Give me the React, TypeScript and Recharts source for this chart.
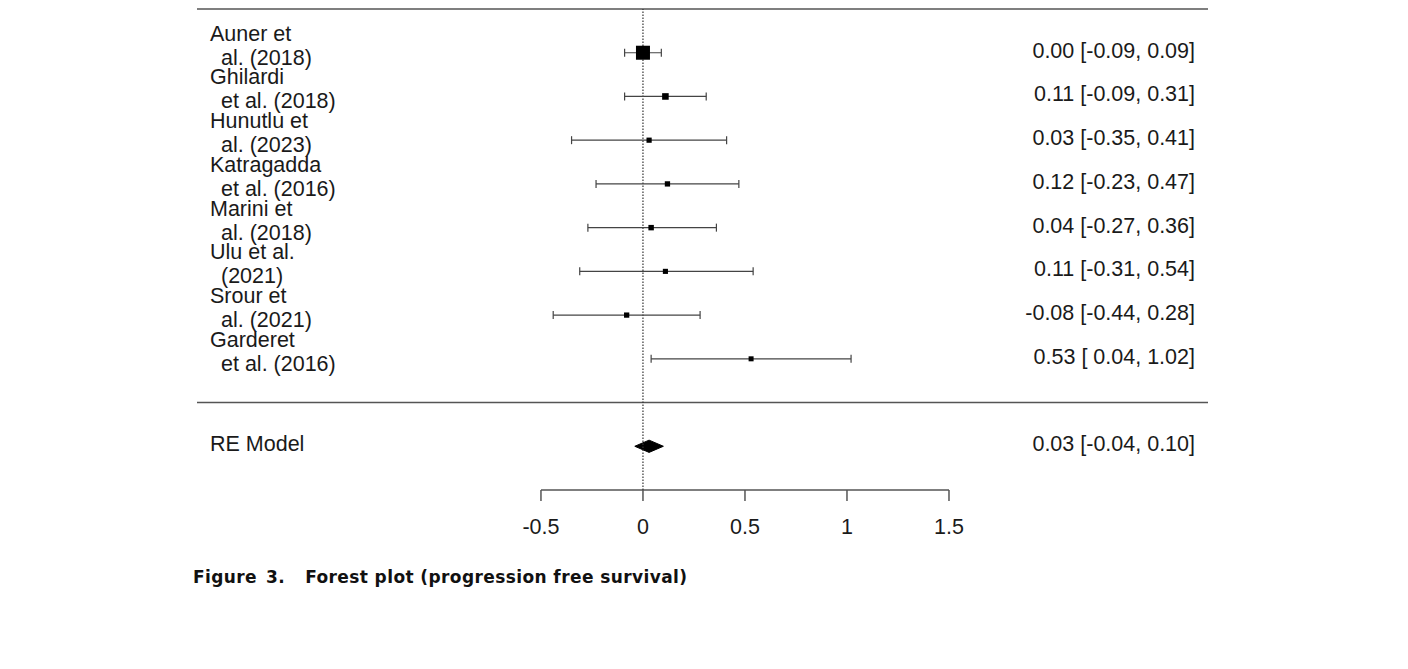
import { ComposedChart, Scatter, ErrorBar, Area, XAxis, YAxis, ReferenceLine } from 'recharts';

// study labels, wrapped onto two lines as in the original figure
const studyNames = [
  ['Auner et', 'al. (2018)'],
  ['Ghilardi', 'et al. (2018)'],
  ['Hunutlu et', 'al. (2023)'],
  ['Katragadda', 'et al. (2016)'],
  ['Marini et', 'al. (2018)'],
  ['Ulu et al.', '(2021)'],
  ['Srour et', 'al. (2021)'],
  ['Garderet', 'et al. (2016)'],
];
const estimates = [0.0, 0.11, 0.03, 0.12, 0.04, 0.11, -0.08, 0.53];
const ciLower = [-0.09, -0.09, -0.35, -0.23, -0.27, -0.31, -0.44, 0.04];
const ciUpper = [0.09, 0.31, 0.41, 0.47, 0.36, 0.54, 0.28, 1.02];
// approximate study weights (%), used for square size
const weights = [64.6, 13.1, 3.6, 4.3, 5.3, 2.9, 4.0, 2.2];

const modelLabel = 'RE Model';
const modelEstimate = 0.03;
const modelLower = -0.04;
const modelUpper = 0.1;

const xTicks = [-0.5, 0, 0.5, 1, 1.5];
const caption = ['Figure', '3.', 'Forest plot (progression free survival)'];

const FONT = '"Liberation Sans", Arial, sans-serif';
const TEXT = '#1a1a1a';
const LINE = '#555';

const n = estimates.length;
const MODEL_ROW = -1;
const TOP_ROW = n + 1;
const AXIS_ROW = -2;
const DIAMOND_H = 0.14;

const rowOf = (i: number) => n - i;
const fmt = (v: number) => v.toFixed(2);
const ciText = (est: number, lo: number, hi: number) =>
  `${fmt(est)} [${fmt(lo).padStart(5)}, ${fmt(hi)}]`;

const minW = Math.min(...weights);
const maxW = Math.max(...weights);

const studyData = estimates.map((est, i) => ({
  x: est,
  y: rowOf(i),
  err: [est - ciLower[i], ciUpper[i] - est],
  w: weights[i],
}));

const diamondData = [
  { x: modelLower, band: [MODEL_ROW, MODEL_ROW] },
  { x: modelEstimate, band: [MODEL_ROW - DIAMOND_H, MODEL_ROW + DIAMOND_H] },
  { x: modelUpper, band: [MODEL_ROW, MODEL_ROW] },
];

const yTicks = [...estimates.map((_, i) => rowOf(i)), MODEL_ROW];

const textStyle = { fontFamily: FONT, fontSize: 21.5, fill: TEXT };

function LabelTick({ x, y, payload }: any) {
  const v = payload.value;
  if (v === MODEL_ROW) {
    return (
      <text x={x + 13} y={y + 5} style={textStyle}>
        {modelLabel}
      </text>
    );
  }
  const [a, b] = studyNames[n - v];
  return (
    <g>
      <text x={x + 13} y={y - 12} style={textStyle}>{a}</text>
      <text x={x + 24} y={y + 12} style={textStyle}>{b}</text>
    </g>
  );
}

function ValueTick({ x, y, payload }: any) {
  const v = payload.value;
  const label =
    v === MODEL_ROW
      ? ciText(modelEstimate, modelLower, modelUpper)
      : ciText(estimates[n - v], ciLower[n - v], ciUpper[n - v]);
  return (
    <text x={x - 13} y={y + 5} textAnchor="end" style={{ ...textStyle, whiteSpace: 'pre' }}>
      {label}
    </text>
  );
}

function StudySquare({ cx, cy, payload }: any) {
  const s = 5 + (9 * (payload.w - minW)) / (maxW - minW);
  return <rect x={cx - s / 2} y={cy - s / 2} width={s} height={s} fill="#000" />;
}

export default function App() {
  return (
    <div style={{ position: 'relative', width: 1392, height: 600 }}>
      <ComposedChart width={1392} height={542} margin={{ top: 1, right: 191, bottom: 0, left: 188 }}>
        <XAxis
          type="number"
          dataKey="x"
          domain={[-2.186, 2.7696]}
          allowDataOverflow
          ticks={xTicks}
          interval={0}
          axisLine={false}
          tickLine={{ stroke: LINE, strokeWidth: 1.5 }}
          tickSize={11}
          tickMargin={18}
          height={60}
          tick={{ fontFamily: FONT, fontSize: 21.5, fill: TEXT }}
          tickFormatter={(v: number) => String(v)}
        />
        <YAxis
          yAxisId="left"
          type="number"
          dataKey="y"
          domain={[AXIS_ROW, TOP_ROW]}
          allowDataOverflow
          ticks={yTicks}
          interval={0}
          width={1}
          axisLine={false}
          tickLine={false}
          tickSize={0}
          tickMargin={0}
          tick={(props: any) => <LabelTick {...props} />}
        />
        <YAxis
          yAxisId="right"
          orientation="right"
          type="number"
          domain={[AXIS_ROW, TOP_ROW]}
          allowDataOverflow
          ticks={yTicks}
          interval={0}
          width={1}
          axisLine={false}
          tickLine={false}
          tickSize={0}
          tickMargin={0}
          tick={(props: any) => <ValueTick {...props} />}
        />
        <ReferenceLine yAxisId="left" y={TOP_ROW} stroke={LINE} strokeWidth={1.5} />
        <ReferenceLine yAxisId="left" y={0} stroke={LINE} strokeWidth={1.5} />
        <ReferenceLine
          yAxisId="left"
          segment={[
            { x: xTicks[0], y: AXIS_ROW },
            { x: xTicks[xTicks.length - 1], y: AXIS_ROW },
          ]}
          stroke={LINE}
          strokeWidth={1.5}
        />
        <ReferenceLine yAxisId="left" x={0} stroke="#333" strokeWidth={1.2} strokeDasharray="1.5 1.5" />
        <Scatter
          yAxisId="left"
          data={studyData}
          shape={<StudySquare />}
          isAnimationActive={false}
        >
          <ErrorBar dataKey="err" direction="x" width={4} stroke="#444" strokeWidth={1.2} isAnimationActive={false} />
        </Scatter>
        <Area
          yAxisId="left"
          data={diamondData}
          dataKey="band"
          type="linear"
          fill="#000"
          fillOpacity={1}
          stroke="#000"
          strokeWidth={1}
          dot={false}
          activeDot={false}
          isAnimationActive={false}
        />
      </ComposedChart>
      <div
        style={{
          position: 'absolute',
          left: 185,
          top: 559,
          fontFamily: '"DejaVu Sans", sans-serif',
          fontWeight: 700,
          fontSize: 17,
          letterSpacing: '0.4px',
          lineHeight: '20px',
          color: '#111',
          whiteSpace: 'nowrap',
        }}
      >
        <span style={{ marginRight: 9 }}>{caption[0]}</span>
        <span style={{ marginRight: 20 }}>{caption[1]}</span>
        <span>{caption[2]}</span>
      </div>
    </div>
  );
}
